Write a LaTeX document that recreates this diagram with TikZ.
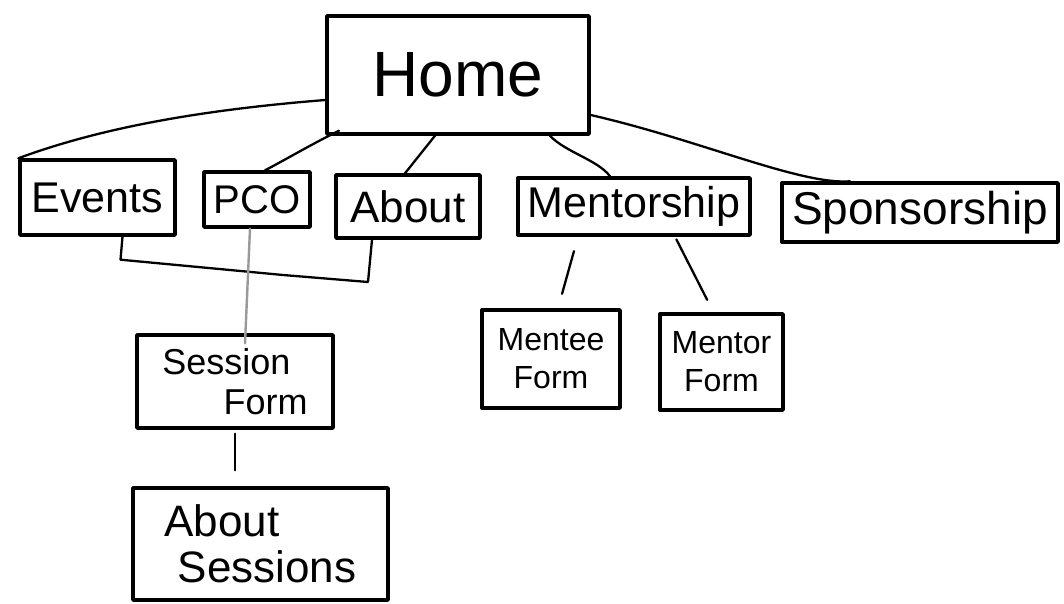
\documentclass[tikz,border=0pt]{standalone}
\usepackage{fontspec}
\setmainfont{Liberation Sans}
\newcommand{\fs}[2]{\fontsize{#1}{#2}\selectfont}
\tikzset{
  box/.style={draw=black, line width=3.4pt, rectangle, inner sep=0pt, align=center, line join=round},
  link/.style={draw=black, line width=2.3pt, line cap=round},
  greylink/.style={draw=black!40, line width=2.4pt, line cap=round},
}
\begin{document}
\begin{tikzpicture}[x=1pt, y=-1pt]
\useasboundingbox (0,0) rectangle (1064,604);
\fill[white] (0,0) rectangle (1064,604);

\node[box, minimum width=262pt, minimum height=118pt, font=\fs{64}{70}] (home) at (458,75) {Home};
\node[box, minimum width=155pt, minimum height=75pt, font=\fs{43}{46}] (events) at (97.5,197.5) {Events};
\node[box, minimum width=106pt, minimum height=55pt, font=\fs{40}{44}] (pco) at (257,199.5) {PCO};
\node[box, minimum width=144pt, minimum height=63pt, font=\fs{44}{46}] (about) at (408,206.5) {About};
\node[box, minimum width=232pt, minimum height=57pt, font=\fs{43}{46}] (mentorship) at (634,206.5) {Mentorship};
\node[box, minimum width=276pt, minimum height=59pt, font=\fs{46}{48}] (sponsorship) at (920,212.5) {Sponsorship};
\node[box, minimum width=196pt, minimum height=93pt, align=left, font=\fs{36}{40}] (session) at (235,381.5) {Session\\\hspace*{1.7em}Form};
\node[box, minimum width=138pt, minimum height=98pt, font=\fs{32}{38}] (mentee) at (551,359) {Mentee\\Form};
\node[box, minimum width=123pt, minimum height=96pt, font=\fs{32}{38}] (mentor) at (721.5,362) {Mentor\\Form};
\node[box, minimum width=255pt, minimum height=112pt, align=left, font=\fs{44}{46}] (aboutsess) at (260.5,544) {About\\\hspace*{0.3em}Sessions};

% connectors from Home
\draw[link] ([yshift=-25pt]home.west) .. controls (200,110) and (100,128) .. (events.north west);
\draw[link] ([xshift=-119pt,yshift=5pt]home.south) .. controls (310,145) and (285,160) .. ([xshift=8pt]pco.north);
\draw[link] ([xshift=-23pt]home.south) -- ([xshift=-3pt]about.north);
\draw[link] ([xshift=92pt]home.south) .. controls (565,152) and (598,160) .. ([xshift=-24pt]mentorship.north);
\draw[link] ([yshift=-40pt]home.east) .. controls (700,140) and (800,185) .. ([xshift=-70pt]sponsorship.north);

% bracket joining Events and About
\draw[link, line join=round] ([xshift=25pt]events.south) -- ++(-2,23) -- (283,275) -- (368,282) -- ([xshift=-36pt]about.south);

% PCO to Session Form
\draw[greylink] ([xshift=-7pt]pco.south) -- ([xshift=10pt,yshift=-10pt]session.north);

% Mentorship children
\draw[link, shorten <=15pt, shorten >=15pt] ([xshift=-56pt]mentorship.south) -- ([xshift=7pt]mentee.north);
\draw[link, shorten <=3pt, shorten >=14pt] ([xshift=41pt]mentorship.south) -- ([xshift=-8pt]mentor.north);

% Session Form to About Sessions
\draw[link, shorten <=4pt, shorten >=16pt] (session.south) -- (aboutsess.north -| session.south);
\end{tikzpicture}
\end{document}
